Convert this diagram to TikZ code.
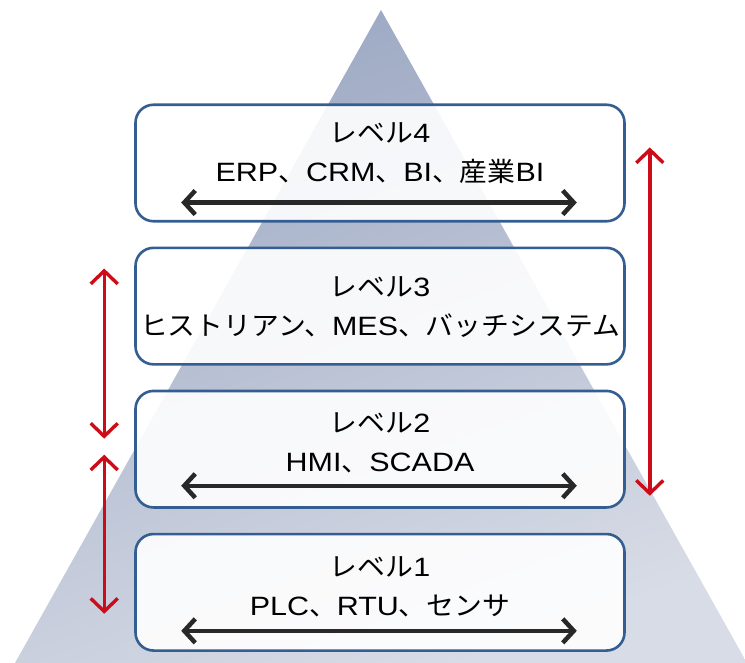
\documentclass[tikz,border=0pt]{standalone}
\usepackage{fontspec}
\setmainfont{Liberation Sans}[FakeStretch=1.15]
\newfontfamily\jpfont{Noto Sans CJK JP}[FakeStretch=1.05]
\newcommand{\jp}[1]{{\jpfont #1}}
\usepackage{tikz}
\usetikzlibrary{positioning, arrows.meta}

\definecolor{pyrtop}{RGB}{156,168,195}
\definecolor{pyrbot}{RGB}{216,220,230}
\definecolor{boxblue}{RGB}{52,94,146}
\definecolor{redarr}{RGB}{204,12,24}
\definecolor{darkarr}{RGB}{40,40,40}

\begin{document}
\begin{tikzpicture}[
		x=1pt, y=-1pt,
		node distance=24pt,
		lvbox/.style={rectangle, draw=boxblue, line width=2.6pt, rounded corners=18pt, fill=white, fill opacity=0.9, text opacity=1, minimum width=489pt, minimum height=116.5pt},
		lvtext/.style={align=center, inner sep=0pt, font=\fontsize{26.5}{39}\selectfont},
		levelarrow/.style={draw=darkarr, line width=4.5pt, {Straight Barb[length=11pt,width=24pt]}-{Straight Barb[length=11pt,width=24pt]}},
		sidearrow/.style={draw=redarr, line width=3.4pt, {Straight Barb[length=13pt,width=27pt]}-{Straight Barb[length=13pt,width=27pt]}}
		]
		\useasboundingbox (0,0) rectangle (745,663);
		
		% Pyramid in the back
		\shade[top color=pyrtop, bottom color=pyrbot, shading angle=20] (381,10) -- (747,663) -- (15,663) -- cycle;
		
		% Levels
		\node[lvbox] (lv4) at (380,163) {};
		\node[lvbox, below=of lv4] (lv3) {};
		\node[lvbox, below=of lv3] (lv2) {};
		\node[lvbox, below=of lv2] (lv1) {};
		
		\node[lvtext] (t4) at ([yshift=-50pt]lv4.north) {\jp{レベル}4\\ERP\jp{、}CRM\jp{、}BI\jp{、産業}BI};
		\node[lvtext] (t3) at ([yshift=-61pt]lv3.north) {\jp{レベル}3\\\jp{ヒストリアン、}MES\jp{、バッチシステム}};
		\node[lvtext] (t2) at ([yshift=-53pt]lv2.north) {\jp{レベル}2\\HMI\jp{、}SCADA};
		\node[lvtext] (t1) at ([yshift=-54pt]lv1.north) {\jp{レベル}1\\PLC\jp{、}RTU\jp{、センサ}};
		
		% Arrows inside the levels
		\path[levelarrow] ([xshift=47pt,yshift=20pt]lv4.south west) -- ([xshift=-49pt,yshift=20pt]lv4.south east);
		\path[levelarrow] ([xshift=47pt,yshift=23pt]lv2.south west) -- ([xshift=-49pt,yshift=23pt]lv2.south east);
		\path[levelarrow] ([xshift=47pt,yshift=21pt]lv1.south west) -- ([xshift=-49pt,yshift=21pt]lv1.south east);
		
		% Red arrows on the sides
		\coordinate (a3top) at ([xshift=-30pt,yshift=-22pt]lv3.north west);
		\coordinate (a3bot) at ([xshift=-30pt,yshift=-49pt]lv2.north west);
		\coordinate (a2top) at ([xshift=-30pt,yshift=-65pt]lv2.north west);
		\coordinate (a1bot) at ([xshift=-30pt,yshift=-81pt]lv1.north west);
		\coordinate (r4top) at ([xshift=24pt,yshift=-44pt]lv4.north east);
		\coordinate (r2bot) at ([xshift=24pt,yshift=13pt]lv2.south east);
		
		\path[sidearrow] (a3top) -- (a3bot);
		\path[sidearrow] (a2top) -- (a1bot);
		\path[sidearrow] (r4top) -- (r2bot);
		
	\end{tikzpicture}
\end{document}
